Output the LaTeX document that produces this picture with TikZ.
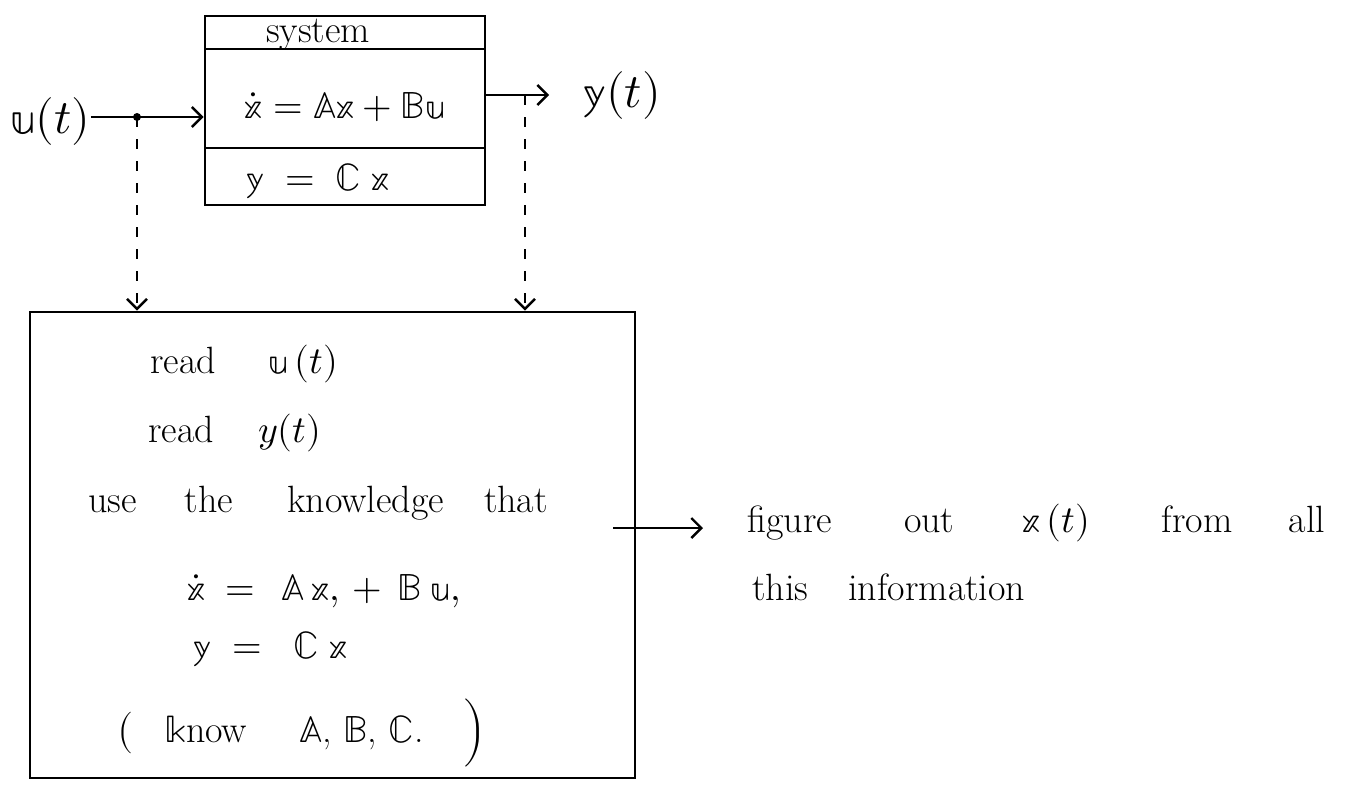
\documentclass[tikz,border=0pt]{standalone}
\usepackage{unicode-math}
\setmathfont{Latin Modern Math}
\usetikzlibrary{arrows.meta}
\begin{document}
\begin{tikzpicture}[x=0.5pt,y=-0.5pt,
  txt/.style={font=\fontsize{19}{23}\selectfont, inner sep=0pt, anchor=base west},
  big/.style={font=\fontsize{24}{28}\selectfont, inner sep=0pt, anchor=base west},
  part/.style={draw, line width=1.4pt, minimum width=140pt, inner sep=0pt, font=\fontsize{19}{23}\selectfont},
  obsbox/.style={draw, line width=1.4pt, minimum width=302.5pt, minimum height=233pt, inner sep=0pt},
  arr/.style={line width=1.2pt, -{Straight Barb[length=5pt,width=10pt]}},
  dsh/.style={dash pattern=on 5pt off 6pt}]
\useasboundingbox (0,0) rectangle (1359,788);

% system block
\node[part, minimum height=16.5pt, text height=12pt, text depth=2.5pt] (sysH) at (345,32.5) {system\hspace{27pt}\mbox{}};
\node[part, minimum height=49.5pt, text height=24pt, text depth=4.5pt] (sysS) at (345,98.5) {$\dot{\mathbb{x}} = \mathbb{A}\mathbb{x} + \mathbb{B}\mathbb{u}$};
\node[part, minimum height=28.5pt, text height=16pt, text depth=2.5pt] (sysO) at (345,176.5) {$\mathbb{y}\;=\;\mathbb{C}\;\mathbb{x}$\hspace{27pt}\mbox{}};

% input / output
\node[big] (u) at (10,133) {$\mathbb{u}(t)$};
\node[big] (yout) at (583,107) {$\mathbb{y}(t)$};

% observer block
\node[obsbox] (obs) at (332.5,545) {};
\node[txt] (l1) at (150,373) {read\hspace{26pt}$\mathbb{u}\,(t)$};
\node[txt] (l2) at (148,442) {read\hspace{22pt}$y(t)$};
\node[txt] (l3) at (88,512) {use\hspace{24pt}the\hspace{27pt}knowledge\hspace{20pt}that};
\node[txt] (l4) at (187,600) {$\dot{\mathbb{x}}\hspace{5pt}=\hspace{8pt}\mathbb{A}\,\mathbb{x},\hspace{3pt}+\hspace{8pt}\mathbb{B}\hspace{4pt}\mathbb{u},$};
\node[txt] (l5) at (193,658) {$\mathbb{y}\;=\;\;\mathbb{C}\;\mathbb{x}$};
\node[txt] (l6) at (117,742) {$\bigl($\hspace{16pt}$\mathbb{k}$now\hspace{26pt}$\mathbb{A}$, $\mathbb{B}$, $\mathbb{C}$.\hspace{20pt}$\Bigr)$};

% conclusion
\node[txt] (fig) at (747,532) {figure\hspace{36pt}out\hspace{34pt}$\mathbb{x}\,(t)$\hspace{36pt}from\hspace{28pt}all};
\node[txt] (info) at (752,600) {this\hspace{20pt}information};

% connectors
\coordinate (tap) at (137,117);
\coordinate (ytap) at (525,95);
\coordinate (fstart) at (613,528);
\draw[line width=1.2pt] (u.east |- tap) -- (tap);
\fill (tap) circle (2pt);
\draw[arr] (tap) -- (tap -| sysS.west);
\draw[arr, shorten >=17pt] (sysS.east |- ytap) -- (yout.west |- ytap);
\draw[arr, dsh] (tap) -- (tap |- obs.north);
\draw[arr, dsh] (ytap) -- (ytap |- obs.north);
\draw[arr, shorten >=22pt] (fstart) -- (fig.west |- fstart);
\end{tikzpicture}
\end{document}
